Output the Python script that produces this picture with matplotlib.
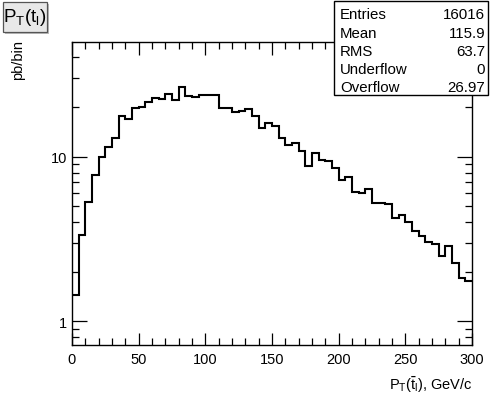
import matplotlib
matplotlib.use("Agg")
import matplotlib.pyplot as plt
from matplotlib.ticker import FixedLocator, NullFormatter, FixedFormatter
from matplotlib.patches import Rectangle
import numpy as np

plt.rcParams['font.family'] = ['Liberation Sans', 'DejaVu Sans']

bin_edges = np.arange(0, 301, 5)
counts = [1.44, 3.37, 5.3, 7.78, 9.9, 11.4, 12.9, 17.6, 16.9, 19.6,
          20.0, 21.5, 22.6, 22.4, 24.0, 22.1, 26.3, 23.4, 22.9, 23.8,
          23.8, 23.8, 19.7, 19.7, 18.6, 18.8, 19.5, 17.7, 14.9, 16.1,
          15.3, 12.9, 11.7, 12.1, 10.8, 8.82, 10.5, 9.55, 9.46, 8.5,
          7.23, 7.5, 6.08, 6.03, 6.37, 5.24, 5.24, 5.17, 4.25, 4.44,
          4.04, 3.56, 3.32, 3.03, 2.96, 2.51, 2.89, 2.26, 1.83, 1.77]

stat_names = ["Entries", "Mean", "RMS", "Underflow", "Overflow"]
stat_values = ["16016", "115.9", "63.7", "0", "26.97"]

W, H = 499, 402
fig = plt.figure(figsize=(W / 100, H / 100), dpi=100)
ax = fig.add_axes([72 / W, 1 - 346 / H, 400 / W, (346 - 43) / H])

ax.stairs(counts, bin_edges, color='black', linewidth=1.5, baseline=None)
ax.set_yscale('log')
ax.set_xlim(0, 300)
ax.set_ylim(0.72, 49.6)

ax.xaxis.set_major_locator(FixedLocator([0, 50, 100, 150, 200, 250, 300]))
ax.xaxis.set_minor_locator(FixedLocator(list(range(0, 301, 10))))
ax.yaxis.set_major_locator(FixedLocator([1, 10]))
ax.yaxis.set_major_formatter(FixedFormatter(["1", "10"]))
minor_y = [0.8, 0.9] + [2, 3, 4, 5, 6, 7, 8, 9] + [20, 30, 40]
ax.yaxis.set_minor_locator(FixedLocator(minor_y))
ax.yaxis.set_minor_formatter(NullFormatter())

ax.tick_params(which='both', direction='in', top=True, right=True, labelsize=10.5, colors='black')
ax.tick_params(which='major', length=9, width=0.9)
ax.tick_params(which='minor', length=5, width=0.9)
ax.tick_params(axis='y', which='major', length=11)
ax.tick_params(axis='x', pad=5)
for s in ax.spines.values():
    s.set_linewidth(1.0)

# axis labels
fig.text(389 / W, 1 - 385 / H, r"P$_{\mathregular{T}}$($\bar{\mathregular{t}}_{\mathregular{l}}$), GeV/c",
         fontsize=10.5, ha='left', va='center')
fig.text(18 / W, 1 - 60 / H, "pb/bin", rotation=90, fontsize=10.5, ha='center', va='center')

# title box
shadow = Rectangle((5 / W, 1 - 35 / H), 44 / W, 30 / H, transform=fig.transFigure,
                   facecolor='#bbbbbb', edgecolor='none')
fig.add_artist(shadow)
tbox = Rectangle((3 / W, 1 - 33 / H), 44 / W, 30 / H, transform=fig.transFigure,
                 facecolor='#e8e8e8', edgecolor='#555555', linewidth=0.9)
fig.add_artist(tbox)
fig.text(25 / W, 1 - 18 / H, r"P$_{\mathregular{T}}$(t$_{\mathregular{l}}$)", fontsize=13.5,
         ha='center', va='center')

# stats box
sbox = Rectangle((334 / W, 1 - 96 / H), 154 / W, 94 / H, transform=fig.transFigure,
                 facecolor='white', edgecolor='black', linewidth=1.0)
fig.add_artist(sbox)
row_y = [15, 34, 52, 70, 88]
for name, val, yy in zip(stat_names, stat_values, row_y):
    fig.text(340 / W, 1 - yy / H, name, fontsize=10.8, ha='left', va='center')
    fig.text(485 / W, 1 - yy / H, val, fontsize=10.8, ha='right', va='center')

fig.savefig("out.png", dpi=100)
